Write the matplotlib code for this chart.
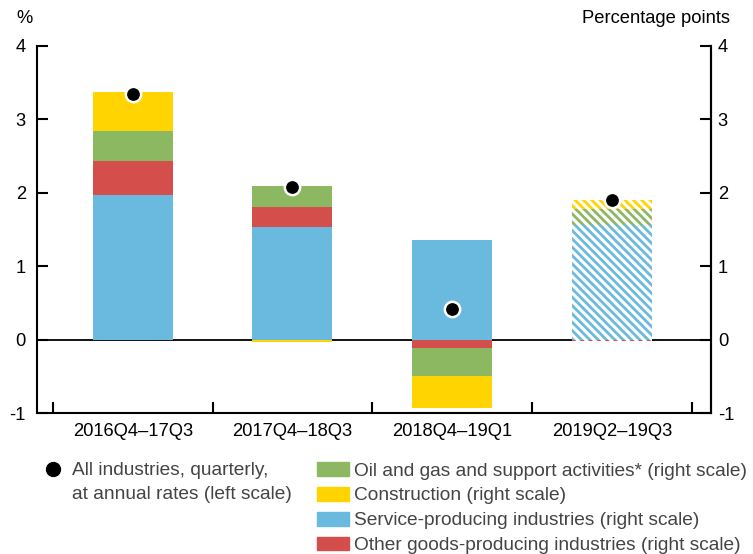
import matplotlib
matplotlib.use("Agg")
import matplotlib.pyplot as plt
import numpy as np
from matplotlib.patches import Patch
from matplotlib.lines import Line2D

plt.rcParams['font.family'] = ['Liberation Sans', 'DejaVu Sans']
plt.rcParams['hatch.linewidth'] = 2.0

# data (percentage points / %)
periods = ['2016Q4–17Q3', '2017Q4–18Q3', '2018Q4–19Q1', '2019Q2–19Q3']
service = [1.97, 1.53, 1.36, 1.56]
other_goods = [0.46, 0.28, -0.12, -0.02]
oil_gas = [0.41, 0.28, -0.37, 0.22]
construction = [0.53, -0.04, -0.44, 0.12]
all_industries = [3.34, 2.08, 0.41, 1.90]
hatched = [False, False, False, True]

blue = '#6ab9de'
red = '#d44e4b'
green = '#8db862'
yellow = '#ffd400'

series = [
    (service, blue),
    (other_goods, red),
    (oil_gas, green),
    (construction, yellow),
]

fs = 13.2
lfs = 13.8

fig = plt.figure(figsize=(7.53, 5.54), dpi=100)
ax = fig.add_axes([0.049, 0.2545, 0.895, 0.663])

x = np.arange(len(periods))
ax.axhline(0, color='black', lw=1.3, zorder=1)

pos_bottom = np.zeros(len(periods))
neg_bottom = np.zeros(len(periods))
for vals, col in series:
    for i, v in enumerate(vals):
        b = pos_bottom[i] if v >= 0 else neg_bottom[i]
        if hatched[i]:
            ax.bar(x[i], v, 0.5, bottom=b, facecolor='white', edgecolor=col,
                   hatch='\\\\\\\\', linewidth=0, zorder=2)
        else:
            ax.bar(x[i], v, 0.5, bottom=b, color=col, linewidth=0, zorder=2)
        if v >= 0:
            pos_bottom[i] += v
        else:
            neg_bottom[i] += v

ax.plot(x, all_industries, 'o', color='black', markersize=11,
        markeredgecolor='white', markeredgewidth=1.8, zorder=5)

ax.set_xlim(-0.6, 3.62)
ax.set_ylim(-1, 4)
ax.set_yticks([-1, 0, 1, 2, 3, 4])
ax.set_yticklabels(['-1', '0', '1', '2', '3', '4'])
ax.set_xticks([-0.5, 0.5, 1.5, 2.5, 3.5])
ax.set_xticklabels([])
ax.set_xticks(x, minor=True)
ax.set_xticklabels(periods, minor=True)
ax.tick_params(axis='x', which='major', direction='in', length=8, width=1.5)
ax.tick_params(axis='x', which='minor', length=0, labelsize=fs, pad=7)
ax.tick_params(axis='y', direction='in', length=8, width=1.5, labelsize=fs, pad=8)

for s in ['left', 'bottom', 'right']:
    ax.spines[s].set_linewidth(1.5)
ax.spines['top'].set_visible(False)

ax2 = ax.twinx()
ax2.set_ylim(-1, 4)
ax2.set_yticks([-1, 0, 1, 2, 3, 4])
ax2.set_yticklabels(['-1', '0', '1', '2', '3', '4'])
ax2.tick_params(axis='y', direction='in', length=8, width=1.5, labelsize=fs, pad=5)
for s in ['left', 'top', 'bottom']:
    ax2.spines[s].set_visible(False)
ax2.spines['right'].set_linewidth(1.5)

fig.text(0.022, 0.967, '%', fontsize=fs, ha='left', va='center')
fig.text(0.970, 0.967, 'Percentage points', fontsize=fs, ha='right', va='center')

# legends
dot_handle = Line2D([], [], marker='o', linestyle='none', color='black', markersize=10)
blank = Line2D([], [], linestyle='none')
fig.legend([dot_handle, blank],
           ['All industries, quarterly,', 'at annual rates (left scale)'],
           loc='upper left', bbox_to_anchor=(0.049, 0.166), frameon=False,
           fontsize=lfs, handlelength=1.65, handletextpad=0.2,
           labelspacing=0.3, labelcolor='#444444',
           borderaxespad=0, borderpad=0)

patch_handles = [Patch(color=green), Patch(color=yellow), Patch(color=blue), Patch(color=red)]
patch_labels = ['Oil and gas and support activities* (right scale)',
                'Construction (right scale)',
                'Service-producing industries (right scale)',
                'Other goods-producing industries (right scale)']
fig.legend(patch_handles, patch_labels, loc='upper left', bbox_to_anchor=(0.421, 0.166),
           frameon=False, fontsize=lfs, handlelength=1.65, handleheight=0.73,
           handletextpad=0.26, labelspacing=0.38, labelcolor='#444444',
           borderaxespad=0, borderpad=0)

fig.savefig('out.png', dpi=100)
